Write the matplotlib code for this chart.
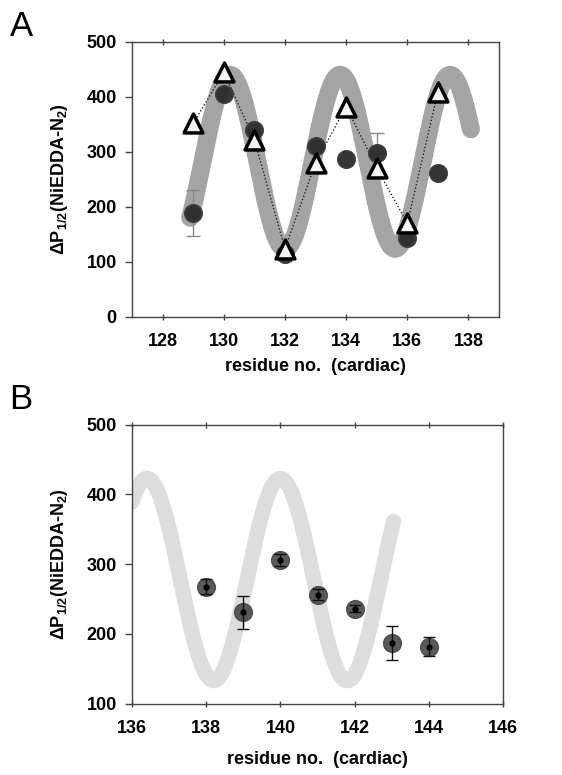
import numpy as np
import matplotlib
matplotlib.use("Agg")
import matplotlib.pyplot as plt

plt.rcParams['font.family'] = ['Liberation Sans', 'DejaVu Sans']
plt.rcParams['mathtext.fontset'] = 'custom'
plt.rcParams['mathtext.rm'] = 'Liberation Sans:bold'
plt.rcParams['mathtext.it'] = 'Liberation Sans:bold:italic'
plt.rcParams['mathtext.bf'] = 'Liberation Sans:bold'
plt.rcParams['mathtext.default'] = 'bf'

# ---------------- Panel A data ----------------
resA = [129, 130, 131, 132, 133, 134, 135, 136, 137]
circlesA = [189, 406, 340, 114, 311, 287, 298, 144, 261]
trianglesA = [352, 445, 322, 124, 280, 382, 271, 170, 409]
errA_res = [129, 135]
errA_val = [189, 298]
errA_lo = [41, 0]
errA_hi = [41, 37]

# helical periodicity curve (A) parameters
helixA_mean = 282
helixA_amp = 158
helixA_period = 3.6
helixA_peak = 130.2
helixA_start, helixA_end = 128.9, 138.08

# ---------------- Panel B data ----------------
resB = [138, 139, 140, 141, 142, 143, 144]
valB = [268, 231, 306, 256, 236, 187, 182]
errB = [11, 24, 9, 8, 5, 25, 13]

helixB_mean = 278
helixB_amp = 145
helixB_period = 3.6
helixB_peak = 140.0
helixB_start, helixB_end = 136.0, 143.05

fig = plt.figure(figsize=(5.62, 7.75), dpi=100)
axA = fig.add_axes([0.235, 0.591, 0.653, 0.355])
axB = fig.add_axes([0.235, 0.092, 0.660, 0.360])

ylab = r'$\Delta$P$_{1/2}$(NiEDDA-N$_2$)'

def style(ax):
    for s in ax.spines.values():
        s.set_color('#444444')
        s.set_linewidth(1.0)
    ax.tick_params(axis='x', which='both', bottom=True, top=True, direction='out',
                   length=5, width=1, color='#444444', labelsize=13, pad=9)
    ax.tick_params(axis='x', top=True, direction='inout', length=5)
    ax.tick_params(axis='y', left=True, right=False, direction='out', length=5,
                   width=1, color='#444444', labelsize=13, pad=6)
    for lab in ax.get_xticklabels() + ax.get_yticklabels():
        lab.set_fontweight('bold')

# ---- Panel A ----
xa = np.linspace(helixA_start, helixA_end, 400)
ya = helixA_mean + helixA_amp * np.cos(2 * np.pi * (xa - helixA_peak) / helixA_period)
axA.plot(xa, ya, color='#a4a4a4', lw=13, solid_capstyle='round', zorder=1)
axA.plot(resA, trianglesA, ls=(0, (1, 1.5)), color='#222222', lw=1.0, zorder=2)
axA.errorbar(errA_res, errA_val, yerr=[errA_lo, errA_hi], fmt='none',
             ecolor='#888888', elinewidth=1, capsize=5, zorder=2)
axA.scatter(resA, circlesA, s=150, color='#2a2a2a', edgecolors='#3a3a3a',
            linewidths=1.5, alpha=0.95, zorder=3)
axA.scatter(resA, trianglesA, s=185, marker='^', facecolor='#f4f4f4',
            edgecolors='black', linewidths=2.5, zorder=4)
axA.set_xlim(127, 139)
axA.set_ylim(0, 500)
axA.set_xticks([128, 130, 132, 134, 136, 138])
axA.set_yticks([0, 100, 200, 300, 400, 500])
axA.set_xlabel('residue no.  (cardiac)', fontsize=13, fontweight='bold', labelpad=6)
axA.set_ylabel(ylab, fontsize=13, fontweight='bold', labelpad=12)
style(axA)

# ---- Panel B ----
xb = np.linspace(helixB_start, helixB_end, 400)
yb = helixB_mean + helixB_amp * np.cos(2 * np.pi * (xb - helixB_peak) / helixB_period)
axB.plot(xb, yb, color='#dddddd', lw=11, solid_capstyle='round', zorder=1)
axB.scatter(resB, valB, s=165, color='#484848', alpha=0.9, zorder=2)
axB.errorbar(resB, valB, yerr=errB, fmt='o', ms=3.5, color='black',
             ecolor='#111111', elinewidth=1, capsize=4, zorder=3)
axB.set_xlim(136, 146)
axB.set_ylim(100, 500)
axB.set_xticks([136, 138, 140, 142, 144, 146])
axB.set_yticks([100, 200, 300, 400, 500])
axB.set_xlabel('residue no.  (cardiac)', fontsize=13, fontweight='bold', labelpad=10)
axB.set_ylabel(ylab, fontsize=13, fontweight='bold', labelpad=12)
style(axB)

fig.text(0.017, 0.944, 'A', fontsize=25, ha='left', va='bottom')
fig.text(0.017, 0.463, 'B', fontsize=25, ha='left', va='bottom')

fig.savefig('out.png', dpi=100, facecolor='white')
